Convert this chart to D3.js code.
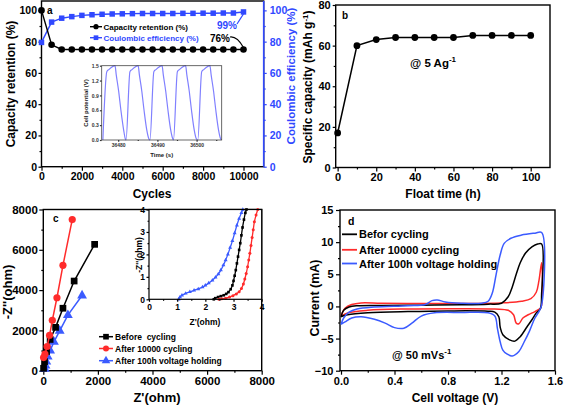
<!DOCTYPE html>
<html><head><meta charset="utf-8">
<script src="https://cdn.jsdelivr.net/npm/d3@7"></script>
<style>
body{margin:0;background:#fff}
svg{display:block}
text{font-family:"Liberation Sans",Arial,sans-serif;font-weight:bold;white-space:pre}
</style>
</head><body>
<svg id="c" width="566" height="406"></svg>
<script>
// ---------- DATA ----------
// Panel a
const cyclesA = [0,500,1000,1500,2000,2500,3000,3500,4000,4500,5000,5500,6000,6500,7000,7500,8000,8500,9000,9500,10000];
const capacityRetention = [100,78,75,75,75,75,75,75,75,75,75,75,75,75,75,75,75,75,75,75,75];
const coulombicEff = [79.5,92.5,95,96,96.8,97.2,97.5,97.7,97.8,97.9,98,98,98,98,98.1,98.1,98.2,98.2,98.3,98.3,99];
const xTicksA = [0,2000,4000,6000,8000,10000];
const yTicksA = [0,20,40,60,80,100];
// Panel a inset: galvanostatic charge/discharge (time s, potential V)
const insetTime = [36476.1,36477.1,36477.6,36479.2,36479.5,36480.1,36480.7,36481.4,36481.8,
  36482.0,36483.0,36483.5,36485.1,36485.4,36486.0,36486.6,36487.3,36487.8,
  36488.1,36489.1,36489.6,36491.2,36491.5,36492.1,36492.7,36493.4,36493.9,
  36494.1,36495.1,36495.6,36497.2,36497.5,36498.1,36498.7,36499.4,36499.9,
  36500.3,36501.3,36501.8,36503.4,36503.7,36504.3,36504.9,36505.6,36506.1,36506.3];
const insetPot = [0,1.38,1.42,1.5,1.32,1.0,0.6,0.2,0.03,
  0,1.38,1.42,1.5,1.32,1.0,0.6,0.2,0.03,
  0,1.38,1.42,1.5,1.32,1.0,0.6,0.2,0.03,
  0,1.38,1.42,1.5,1.32,1.0,0.6,0.2,0.03,
  0,1.38,1.42,1.5,1.32,1.0,0.6,0.2,0.03,0];
const insetXTicks = [36480,36490,36500];
const insetYTicks = [0,0.3,0.6,0.9,1.2,1.5];

// Panel b
const floatTime = [0,10,20,30,40,50,60,70,80,90,100];
const specCap = [17,60,63,64,64,64,64,65,65,65,65];
const xTicksB = [0,20,40,60,80,100];
const yTicksB = [0,20,40,60,80];

// Panel c: Nyquist (Z', -Z'')
const nyqBefore = [[1880,6270],[1130,4450],[720,3100],[450,2150],[250,1550],[120,950],[45,450],[10,120]];
const nyqCycling = [[1060,7500],[720,5230],[500,3620],[330,2500],[230,1760],[140,1200],[60,820],[10,650]];
const nyqHolding = [[1420,3730],[900,2760],[600,1980],[390,1430],[250,1000],[160,700],[110,450],[80,250],[55,90]];
const insBefore = [[2.3,0],[2.35,0.05],[2.45,0.1],[2.55,0.14],[2.65,0.18],[2.74,0.24],[2.82,0.32],[2.9,0.45],[2.96,0.62],[3.0,0.82],[3.04,1.05],[3.08,1.3],[3.12,1.6],[3.16,1.9],[3.2,2.2],[3.24,2.5],[3.28,2.85],[3.32,3.2],[3.37,3.55],[3.42,3.85],[3.46,4.0]];
const insCycling = [[2.48,0],[2.58,0.02],[2.72,0.05],[2.86,0.1],[2.98,0.16],[3.1,0.24],[3.2,0.34],[3.28,0.48],[3.35,0.68],[3.4,0.9],[3.45,1.15],[3.5,1.45],[3.54,1.75],[3.58,2.05],[3.62,2.4],[3.66,2.75],[3.7,3.1],[3.74,3.45],[3.8,3.75],[3.86,4.0]];
const insHolding = [[1.05,0],[1.1,0.1],[1.17,0.18],[1.3,0.26],[1.45,0.33],[1.6,0.4],[1.75,0.46],[1.9,0.54],[2.0,0.62],[2.12,0.72],[2.25,0.85],[2.36,0.98],[2.46,1.12],[2.55,1.3],[2.64,1.52],[2.72,1.75],[2.8,2.0],[2.88,2.3],[2.96,2.6],[3.04,2.95],[3.12,3.3],[3.2,3.6],[3.28,3.85],[3.33,4.0]];
const xTicksC = [0,2000,4000,6000,8000];
const yTicksC = [0,2000,4000,6000,8000];
const insTicksC = [0,1,2,3,4];

// Panel d: CV curves (V, mA)
const cvBefore = [[0,-1.6],[0.02,-0.6],[0.06,-0.1],[0.12,0.1],[0.3,0.15],[0.6,0.2],[0.9,0.25],[1.1,0.35],[1.2,0.5],[1.25,1.5],[1.28,3],[1.31,5],[1.34,6.8],[1.38,8.3],[1.43,9.3],[1.47,9.7],[1.5,9.7],
  [1.5,2],[1.49,-0.4],[1.46,-1.0],[1.43,-2.0],[1.39,-3.2],[1.34,-4.7],[1.3,-5.4],[1.26,-5.2],[1.21,-4.4],[1.19,-3.2],[1.18,-1.6],[1.15,-0.9],[1.1,-0.75],[0.8,-0.7],[0.5,-0.8],[0.2,-1.0],[0.05,-1.3],[0,-1.6]];
const cvCycling = [[0,-1.5],[0.03,-0.3],[0.08,0.3],[0.15,0.55],[0.3,0.5],[0.6,0.45],[0.9,0.45],[1.2,0.55],[1.35,0.8],[1.42,1.2],[1.46,2.2],[1.48,4],[1.5,6.8],
  [1.5,0.2],[1.49,-0.3],[1.45,-0.8],[1.4,-1.3],[1.36,-1.8],[1.33,-2.7],[1.31,-2.6],[1.29,-1.3],[1.25,-0.6],[1.15,-0.4],[0.8,-0.35],[0.5,-0.4],[0.2,-0.6],[0.05,-1.0],[0,-1.5]];
const cvHolding = [[0,-2.8],[0.02,-1.8],[0.06,-0.9],[0.12,-0.4],[0.25,-0.1],[0.5,0.1],[0.63,0.3],[0.68,0.9],[0.72,1.0],[0.78,0.7],[0.9,0.5],[1.05,0.5],[1.1,0.8],[1.13,2],[1.16,5],[1.19,8],[1.22,9.8],[1.27,10.6],[1.35,11.1],[1.45,11.4],[1.5,11.5],
  [1.5,0.2],[1.48,-0.8],[1.45,-1.8],[1.41,-3.8],[1.37,-5.5],[1.33,-7],[1.28,-7.7],[1.24,-7.4],[1.21,-6.8],[1.19,-5.5],[1.17,-3.5],[1.15,-1.5],[1.1,-1.0],[0.9,-0.95],[0.7,-1.0],[0.6,-1.5],[0.53,-2.6],[0.47,-3.4],[0.4,-3.3],[0.33,-2.6],[0.25,-2.0],[0.15,-1.6],[0.08,-1.8],[0.03,-2.4],[0,-2.8]];
const xTicksD = [0,0.4,0.8,1.2,1.6];
const yTicksD = [-10,-5,0,5,10,15];

// ---------- DRAWING ----------
const FONT = '"Liberation Sans",Arial,sans-serif';
const BLUE_A = "#3048ff", BLUE = "#3b5bff", RED = "#ff2b2b", WAVE = "#8080ff";
const svg = d3.select("#c");

function axis(gen, scale, major, minor, fmt, fs, color, tx, ty, size=4, pad=2, msize=2){
  const g = svg.append("g").attr("transform",`translate(${tx},${ty})`)
    .call(gen(scale).tickValues(major).tickSize(size).tickPadding(pad).tickFormat(fmt));
  g.attr("font-size",fs).attr("font-family",FONT).attr("font-weight","bold");
  g.select(".domain").remove();
  g.selectAll("line").attr("stroke",color).attr("stroke-width",1.2);
  g.selectAll("text").attr("fill",color);
  if(minor && minor.length){
    const m = svg.append("g").attr("transform",`translate(${tx},${ty})`)
      .call(gen(scale).tickValues(minor).tickSize(msize).tickFormat(""));
    m.select(".domain").remove();
    m.selectAll("line").attr("stroke",color).attr("stroke-width",1.2);
  }
  return g;
}
function frame(x0,x1,y0,y1,w=1.4,c="#000"){
  svg.append("rect").attr("x",x0).attr("y",y1).attr("width",x1-x0).attr("height",y0-y1)
    .attr("fill","none").attr("stroke",c).attr("stroke-width",w);
}
function text(x,y,s,fs,opts={}){
  const t = svg.append("text").attr("x",x).attr("y",y).attr("font-size",fs)
    .attr("fill",opts.fill||"#000").attr("text-anchor",opts.anchor||"start").text(s);
  if(opts.rot) t.attr("transform",`rotate(-90,${x},${y})`).attr("dy","0.35em");
  return t;
}
const sq = d3.symbol().type(d3.symbolSquare);
const tri = d3.symbol().type(d3.symbolTriangle);

// ===== Panel a =====
const xA = d3.scaleLinear([0,11000],[41.5,263.7]);
const yA = d3.scaleLinear([0,106],[166.7,1]);
frame(41.5,263.7,166.7,1);
svg.append("line").attr("x1",263.7).attr("x2",263.7).attr("y1",1).attr("y2",166.7).attr("stroke",BLUE_A).attr("stroke-width",1.6);
axis(d3.axisBottom,xA,xTicksA,[1000,3000,5000,7000,9000],d3.format("d"),10.5,"#000",0,166.7);
axis(d3.axisLeft,yA,yTicksA,[10,30,50,70,90],d3.format("d"),10.5,"#000",41.5,0,3,1.5);
axis(d3.axisRight,yA,yTicksA,[10,30,50,70,90],d3.format("d"),10.5,BLUE_A,263.7,0,3,3);
text(11,84,"Capacity retention (%)",12,{anchor:"middle",rot:true});
text(152,197.5,"Cycles",12,{anchor:"middle"});
text(291,76,"Coulombic efficiency (%)",11.5,{anchor:"middle",rot:true,fill:BLUE_A});
text(47,13.5,"a",10);

const lineA = d3.line().x((d,i)=>xA(cyclesA[i])).y(d=>yA(d));
svg.append("path").attr("d",lineA(coulombicEff)).attr("fill","none").attr("stroke",BLUE_A).attr("stroke-width",1.4);
svg.selectAll(".ceM").data(coulombicEff).enter().append("path").attr("class","ceM")
  .attr("transform",(d,i)=>`translate(${xA(cyclesA[i])},${yA(d)})`).attr("d",sq.size(30)).attr("fill",BLUE_A);
svg.append("path").attr("d",lineA(capacityRetention)).attr("fill","none").attr("stroke","#000").attr("stroke-width",1.4);
svg.selectAll(".crM").data(capacityRetention).enter().append("circle").attr("class","crM")
  .attr("cx",(d,i)=>xA(cyclesA[i])).attr("cy",d=>yA(d)).attr("r",3.3).attr("fill","#000");

// legend a
svg.append("line").attr("x1",90).attr("x2",102).attr("y1",26.7).attr("y2",26.7).attr("stroke","#000").attr("stroke-width",1.4);
svg.append("circle").attr("cx",96).attr("cy",26.7).attr("r",2.6).attr("fill","#000");
text(103.5,29.5,"Capacity retention (%)",8);
svg.append("line").attr("x1",90).attr("x2",102).attr("y1",37.7).attr("y2",37.7).attr("stroke",BLUE_A).attr("stroke-width",1.4);
svg.append("path").attr("transform","translate(96,37.7)").attr("d",sq.size(22)).attr("fill",BLUE_A);
text(103.5,40.5,"Coulombic efficiency (%)",8,{fill:BLUE_A});
// annotations
text(237,29,"99%",10,{anchor:"end",fill:BLUE_A});
svg.append("line").attr("x1",237).attr("y1",24).attr("x2",xA(10000)).attr("y2",yA(99)+2).attr("stroke",BLUE_A).attr("stroke-width",1.2);
text(230,41.5,"76%",10,{anchor:"end"});
svg.append("path").attr("d",`M230,37 Q237,36 ${xA(10000)},${yA(75)-2}`).attr("fill","none").attr("stroke","#000").attr("stroke-width",1.1);

// inset a
const xI = d3.scaleLinear([36475.8,36506.4],[101.7,221.7]);
const yI = d3.scaleLinear([0,1.5],[140,65.7]);
svg.append("rect").attr("x",101.7).attr("y",65.7).attr("width",120).attr("height",74.3).attr("fill","#fff");
const waveLine = d3.line().x((d,i)=>xI(insetTime[i])).y(d=>yI(d)).curve(d3.curveMonotoneX);
svg.append("path").attr("d",waveLine(insetPot)).attr("fill","none").attr("stroke",WAVE).attr("stroke-width",1.2);
frame(101.7,221.7,140,65.7,0.8,"#444");
axis(d3.axisBottom,xI,insetXTicks,[36485,36495,36505],d3.format("d"),5,"#333",0,140,1.8,1.5,1);
axis(d3.axisLeft,yI,insetYTicks,[],d3.format(".1f"),5,"#333",101.7,0,1.8,1.2);
text(86,103,"Cell potential (V)",6,{anchor:"middle",rot:true,fill:"#222"});
text(161.7,156.5,"Time (s)",6,{anchor:"middle",fill:"#222"});

// ===== Panel b =====
const xB = d3.scaleLinear([-1,110],[335.7,550]);
const yB = d3.scaleLinear([0,80],[167.5,5]);
frame(335.7,550,167.5,5);
axis(d3.axisBottom,xB,xTicksB,[10,30,50,70,90],d3.format("d"),11,"#000",0,167.5);
axis(d3.axisLeft,yB,yTicksB,[10,30,50,70],d3.format("d"),11,"#000",335.7,0,3,2);
const ytB = text(308,87,"Specific capacity (mAh g",12,{anchor:"middle",rot:true});
ytB.append("tspan").attr("font-size",8).attr("dy","-0.5em").text("-1");
ytB.append("tspan").attr("dy","0.35em").text(")");
text(443,197.5,"Float time (h)",12,{anchor:"middle"});
text(342,18.5,"b",10);
const tb = text(410,67,"@ 5 Ag",11.5);
tb.append("tspan").attr("font-size",8).attr("dy","-5").text("-1");
const lineB = d3.line().x((d,i)=>xB(floatTime[i])).y(d=>yB(d));
svg.append("path").attr("d",lineB(specCap)).attr("fill","none").attr("stroke","#000").attr("stroke-width",1.5);
svg.selectAll(".bM").data(specCap).enter().append("circle").attr("class","bM")
  .attr("cx",(d,i)=>xB(floatTime[i])).attr("cy",d=>yB(d)).attr("r",3.4).attr("fill","#000");

// ===== Panel c =====
const xC = d3.scaleLinear([0,8000],[43.3,261.7]);
const yC = d3.scaleLinear([0,8000],[370.7,209.5]);
frame(43.3,261.7,370.7,209.5);
axis(d3.axisBottom,xC,xTicksC,[1000,3000,5000,7000],d3.format("d"),11.5,"#000",0,370.7);
axis(d3.axisLeft,yC,yTicksC,[1000,3000,5000,7000],d3.format("d"),11.5,"#000",43.3,0,4,1.5);
text(7,292,"-Z''(ohm)",13,{anchor:"middle",rot:true});
text(157,401.5,"Z'(ohm)",13,{anchor:"middle"});
text(53,222,"c",10);
const lineC = d3.line().x(d=>xC(d[0])).y(d=>yC(d[1]));
function series(data,line,color,marker,size){
  svg.append("path").attr("d",line(data)).attr("fill","none").attr("stroke",color).attr("stroke-width",1.5);
  const g = svg.append("g");
  data.forEach(d=>{
    const px = line.x()(d), py = line.y()(d);
    if(marker==="c") g.append("circle").attr("cx",px).attr("cy",py).attr("r",size).attr("fill",color);
    else g.append("path").attr("transform",`translate(${px},${py})`).attr("d",(marker==="s"?sq:tri).size(size)).attr("fill",color);
  });
}
series(nyqHolding,lineC,BLUE,"t",42);
series(nyqBefore,lineC,"#000","s",45);
series(nyqCycling,lineC,RED,"c",3.6);
// legend c
[["Before  cycling","#000","s"],["After 10000 cycling",RED,"c"],["After 100h voltage holding",BLUE,"t"]].forEach((l,i)=>{
  const y = [336.7,348.5,360.7][i];
  svg.append("line").attr("x1",99).attr("x2",113).attr("y1",y).attr("y2",y).attr("stroke",l[1]).attr("stroke-width",1.5);
  if(l[2]==="c") svg.append("circle").attr("cx",106).attr("cy",y).attr("r",3).attr("fill",l[1]);
  else svg.append("path").attr("transform",`translate(106,${y})`).attr("d",(l[2]==="s"?sq:tri).size(32)).attr("fill",l[1]);
  text(115,y+3,l[0],8.5);
});
// inset c
const xCI = d3.scaleLinear([0,4],[149,261.7]);
const yCI = d3.scaleLinear([0,4],[299.3,209.5]);
svg.append("rect").attr("x",149).attr("y",209.5).attr("width",112.7).attr("height",89.8).attr("fill","#fff");
const lineCI = d3.line().x(d=>xCI(d[0])).y(d=>yCI(d[1])).curve(d3.curveCatmullRom.alpha(0.5));
function insSeries(data,color,marker){
  svg.append("path").attr("d",lineCI(data)).attr("fill","none").attr("stroke",color).attr("stroke-width",1.3);
  data.forEach(d=>{
    const px=xCI(d[0]), py=yCI(d[1]);
    if(marker==="c") svg.append("circle").attr("cx",px).attr("cy",py).attr("r",1.5).attr("fill",color);
    else svg.append("path").attr("transform",`translate(${px},${py})`).attr("d",(marker==="s"?sq:tri).size(7)).attr("fill",color);
  });
}
insSeries(insHolding,BLUE,"t");
insSeries(insBefore,"#000","s");
insSeries(insCycling,RED,"c");
frame(149,261.7,299.3,209.5,1.2);
axis(d3.axisBottom,xCI,insTicksC,[0.5,1.5,2.5,3.5],d3.format("d"),8.5,"#000",0,299.3,2.5,2,1.5);
axis(d3.axisLeft,yCI,insTicksC,[0.5,1.5,2.5,3.5],d3.format("d"),8.5,"#000",149,0,2.5,1.5,1.5);
text(139,255,"-Z''(ohm)",8.5,{anchor:"middle",rot:true});
text(205,324.5,"Z'(ohm)",8.5,{anchor:"middle"});

// ===== Panel d =====
const xD = d3.scaleLinear([-0.0075,1.6],[340,555]);
const yD = d3.scaleLinear([-10,15],[370.7,210]);
frame(340,555,370.7,210);
axis(d3.axisBottom,xD,xTicksD,[0.2,0.6,1.0,1.4],d3.format(".1f"),11,"#000",0,370.7,4,2.5);
axis(d3.axisLeft,yD,yTicksD,[-7.5,-2.5,2.5,7.5,12.5],d3.format("d"),11,"#000",340,0,4,2.5);
text(315,298,"Current (mA)",12.5,{anchor:"middle",rot:true});
text(455,402,"Cell voltage (V)",12,{anchor:"middle"});
text(348,225,"d",10.5);
const lineD = d3.line().x(d=>xD(d[0])).y(d=>yD(d[1])).curve(d3.curveCatmullRom.alpha(0.5));
svg.append("path").attr("d",lineD(cvCycling)).attr("fill","none").attr("stroke",RED).attr("stroke-width",1.5);
svg.append("path").attr("d",lineD(cvBefore)).attr("fill","none").attr("stroke","#000").attr("stroke-width",1.5);
svg.append("path").attr("d",lineD(cvHolding)).attr("fill","none").attr("stroke",BLUE).attr("stroke-width",1.5);
[["Befor cycling","#000"],["After 10000 cycling",RED],["After 100h voltage holding",BLUE]].forEach((l,i)=>{
  const y=[234.3,249.8,263.5][i];
  svg.append("line").attr("x1",342).attr("x2",357).attr("y1",y).attr("y2",y).attr("stroke",l[1]).attr("stroke-width",1.8);
  text(359,y+4,l[0],11);
});
const td = text(392,359,"@ 50 mVs",11);
td.append("tspan").attr("font-size",8).attr("dy","-5").text("-1");
</script>
</body></html>
